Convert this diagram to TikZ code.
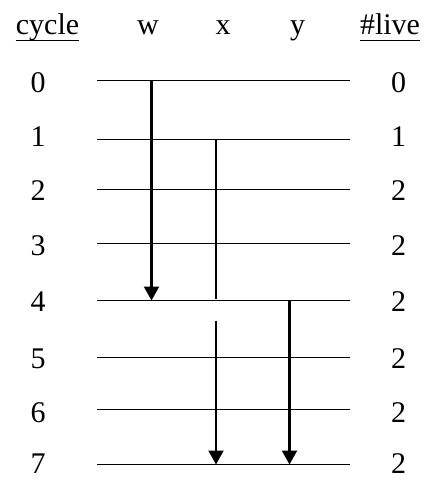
\documentclass[tikz,border=0pt]{standalone}
\usepackage{fontspec}
\setmainfont{Liberation Serif}
\usetikzlibrary{arrows.meta}
\begin{document}
\begin{tikzpicture}[x=1bp,y=-1bp,
  lbl/.style={inner sep=0pt,anchor=base,font=\fontsize{30bp}{36bp}\selectfont},
  cyc/.style={line width=1.5bp},
  life/.style={line width=2.2bp},
  lifearrow/.style={line width=2.2bp,-{Triangle[width=15bp,length=14bp]}},
  uline/.style={line width=1.6bp}]
\useasboundingbox (0,0) rectangle (425,480);

% column headers
\node[lbl] (hc) at (47.5,34.5) {cycle};
\node[lbl] (hw) at (148,34.5) {w};
\node[lbl] (hx) at (223,34.5) {x};
\node[lbl] (hy) at (297.5,34.5) {y};
\node[lbl] (hl) at (390,34.5) {\#live};
\draw[uline] ([yshift=-6bp]hc.base west) -- ([yshift=-6bp]hc.base east);
\draw[uline] ([yshift=-6bp]hl.base west) -- ([yshift=-6bp]hl.base east);

% one row per cycle: label, horizontal line, live count
\foreach \i/\ly/\by/\n in {0/80.5/92.3/0, 1/139.5/147/1, 2/189.5/200/2, 3/243.5/255/2,
                          4/300.5/311.7/2, 5/357.5/368/2, 6/409.5/422/2, 7/464.5/473/2}{
  \node[lbl] (c\i) at (38,\by) {\i};
  \node[lbl] (n\i) at (398.5,\by) {\n};
  \coordinate (a\i) at (97,\ly);
  \coordinate (b\i) at (350,\ly);
  \coordinate (w\i) at (151.5,\ly);
  \coordinate (x\i) at (216,\ly);
  \coordinate (y\i) at (289.5,\ly);
  \draw[cyc] (a\i) -- (b\i);
}

% live ranges
\draw[lifearrow] (w0) -- (w4);
\draw[life] (x1) -- ([yshift=2bp]x4);
\coordinate (xr) at (216,320.7);
\draw[lifearrow] (xr) -- (x7);
\draw[lifearrow] (y4) -- (y7);
\end{tikzpicture}
\end{document}
